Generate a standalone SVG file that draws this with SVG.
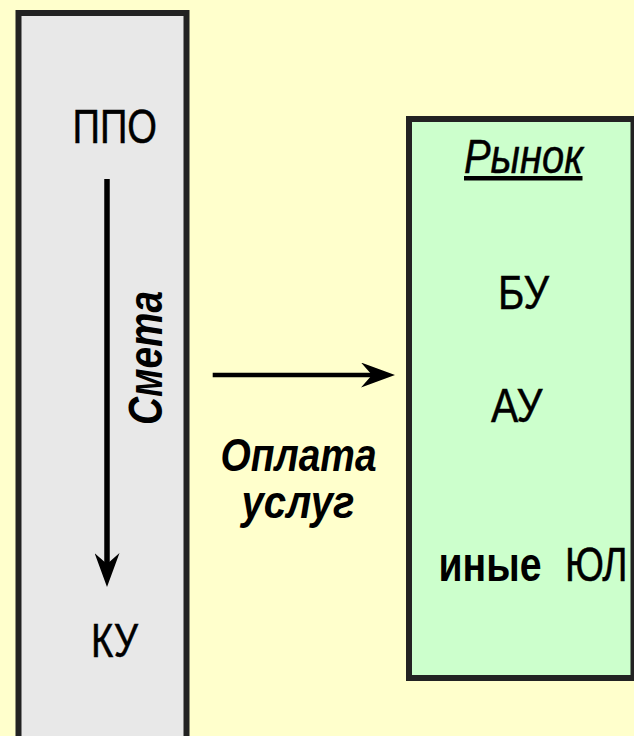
<svg xmlns="http://www.w3.org/2000/svg" width="634" height="736" viewBox="0 0 634 736">
<style>
.t{font-family:"Liberation Sans",Arial,sans-serif;font-size:48px;fill:#000}
.r{stroke:#000;stroke-width:0.5}
.b{font-weight:bold}
.i{font-style:italic}
.s{font-size:46px}
.box{stroke:#222;stroke-width:6}
.conn{stroke:#000;fill:none}
</style>
<defs>
<marker id="ah" viewBox="0 0 34 25" refX="11" refY="12.5" markerWidth="34" markerHeight="25" markerUnits="userSpaceOnUse" orient="auto">
<path d="M0,0 L34,12.5 L0,25 L11,12.5 Z" fill="#000"/>
</marker>
</defs>
<rect x="0" y="0" width="634" height="736" fill="#ffffcc"/>
<g id="node-left">
<rect class="box" x="18.5" y="13" width="168" height="760" fill="#e8e8e8"/>
<text class="t r" x="72.5" y="142.7" textLength="84.5" lengthAdjust="spacingAndGlyphs">ППО</text>
<text class="t r" x="91" y="656.7" textLength="47" lengthAdjust="spacingAndGlyphs">КУ</text>
<text class="t b i" transform="translate(161.7,425) rotate(-90)" x="0" y="0" textLength="134" lengthAdjust="spacingAndGlyphs">Смета</text>
</g>
<g id="node-market">
<rect class="box" x="409" y="119" width="224.5" height="559" fill="#ccffcc"/>
<text class="t i r" x="464" y="173" textLength="119" lengthAdjust="spacingAndGlyphs">Рынок</text>
<rect x="464" y="176" width="118.5" height="4.5" fill="#000"/>
<text class="t r" x="498" y="309.3" textLength="51" lengthAdjust="spacingAndGlyphs">БУ</text>
<text class="t r" x="491" y="421.7" textLength="51.5" lengthAdjust="spacingAndGlyphs">АУ</text>
<text class="t b" x="438.5" y="581" textLength="103" lengthAdjust="spacingAndGlyphs">иные</text>
<text class="t r" x="565" y="581" textLength="62.5" lengthAdjust="spacingAndGlyphs">ЮЛ</text>
</g>
<g id="label-payment">
<text class="t b i s" x="220.5" y="471" textLength="156" lengthAdjust="spacingAndGlyphs">Оплата</text>
<text class="t b i s" x="241.5" y="518" textLength="113" lengthAdjust="spacingAndGlyphs">услуг</text>
</g>
<g id="connectors">
<path class="conn" d="M107,179 L107,564" stroke-width="5.5" marker-end="url(#ah)"/>
<path class="conn" d="M212.7,375 L372,375" stroke-width="4.5" marker-end="url(#ah)"/>
</g>
</svg>
